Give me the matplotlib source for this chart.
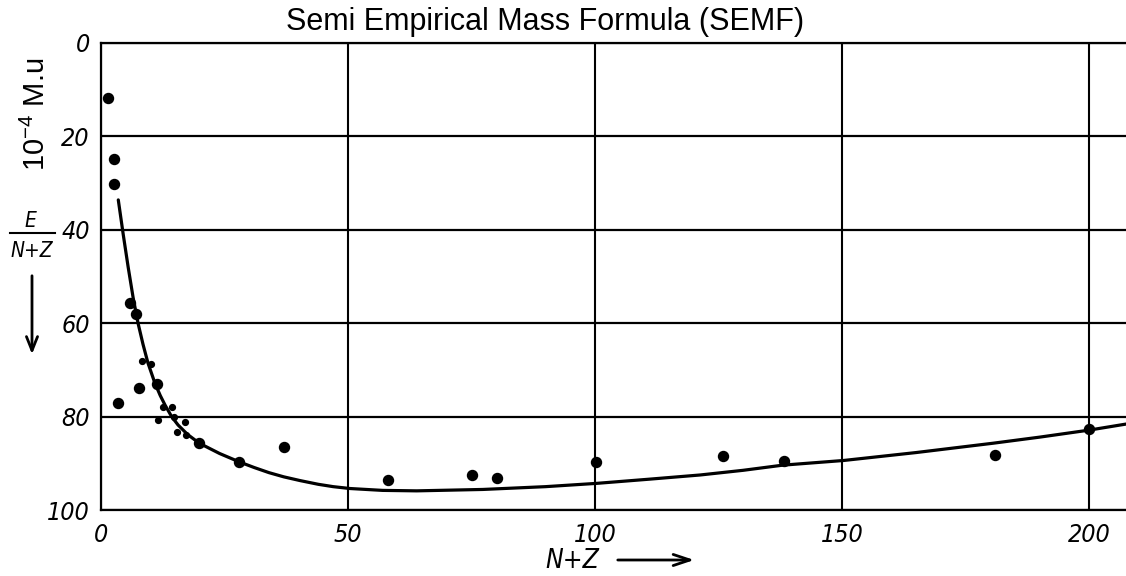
import matplotlib
matplotlib.use("Agg")
import matplotlib.pyplot as plt

plt.rcParams["mathtext.fontset"] = "custom"
plt.rcParams["mathtext.rm"] = "Liberation Sans"

# ---- data ----
big_x = [1.5, 2.7, 2.7, 5.9, 7.0, 7.6, 3.5, 11.3, 19.9, 28.0, 37.0, 58.2, 75.2, 80.1, 100.2, 126.0, 138.3, 181.0, 200.0]
big_y = [11.8, 24.9, 30.2, 55.6, 58.1, 73.9, 77.0, 73.0, 85.7, 89.7, 86.6, 93.6, 92.5, 93.1, 89.7, 88.4, 89.5, 88.2, 82.7]

small_x = [8.2, 10.1, 12.6, 14.4, 11.5, 14.8, 17.0, 15.3, 17.3]
small_y = [68.2, 68.7, 78.0, 77.9, 80.7, 80.1, 81.1, 83.2, 83.9]

curve_x = [3.5, 4.5, 5.5, 6.5, 7.5, 8.5, 9.5, 10.9, 12.0, 13.0, 14.3, 15.6, 17.5, 19.9, 24.0, 28.0,
           31.0, 34.0, 37.0, 40.3, 44.0, 47.0, 50.4, 57.0, 63.9, 77.3, 90.0, 100.3, 111.0, 121.3,
           130.0, 138.0, 150.3, 165.0, 180.6, 190.0, 200.0, 207.5]
curve_y = [33.6, 41.0, 48.0, 54.5, 60.0, 64.5, 68.5, 72.8, 75.5, 77.6, 80.0, 81.8, 83.8, 85.7, 87.9, 89.7,
           90.9, 92.0, 92.9, 93.7, 94.5, 95.0, 95.4, 95.8, 95.9, 95.6, 95.0, 94.3, 93.4, 92.5,
           91.5, 90.4, 89.4, 87.7, 85.7, 84.4, 82.9, 81.6]

x_ticks = [0, 50, 100, 150, 200]
x_labels = ["0", "50", "100", "150", "200"]
y_ticks = [0, 20, 40, 60, 80, 100]
y_labels = ["0", "20", "40", "60", "80", "100"]

W, H = 1126, 576
fig = plt.figure(figsize=(W / 100, H / 100), dpi=100)
fig.patch.set_facecolor("white")

def fx(px):
    return px / W

def fy(py):
    return 1 - py / H

ax = fig.add_axes([fx(101), fy(510), fx(1126) - fx(101), fy(43) - fy(510)])
ax.set_xlim(0, 207.5)
ax.set_ylim(100, 0)

for t in x_ticks:
    ax.axvline(t, color="black", lw=1.5, zorder=1)
for t in y_ticks:
    ax.axhline(t, color="black", lw=1.6, zorder=1)

ax.spines["right"].set_visible(False)
for side in ["left", "top", "bottom"]:
    ax.spines[side].set_linewidth(1.6)

ax.plot(curve_x, curve_y, color="black", lw=2.3, zorder=2, solid_capstyle="round",
        solid_joinstyle="round")
ax.plot(big_x, big_y, "o", color="black", ms=7.2, zorder=3)
ax.plot(small_x, small_y, "o", color="black", ms=4.2, zorder=3)

tick_font = dict(family="DejaVu Sans", style="italic", stretch="condensed", size=18)
ax.set_xticks(x_ticks)
ax.set_xticklabels(x_labels, fontdict=tick_font)
ax.set_yticks(y_ticks)
ax.set_yticklabels(y_labels, fontdict=tick_font)
ax.tick_params(axis="both", length=0)
ax.tick_params(axis="x", pad=9)
ax.tick_params(axis="y", pad=8)

# title
fig.text(fx(545), fy(22), "Semi Empirical Mass Formula (SEMF)", family="Liberation Sans",
         size=22, ha="center", va="center")
# unit label
fig.text(fx(36), fy(114), r"10$^{\mathregular{-4}}$ M.u", family="Liberation Sans", size=21,
         rotation=90, ha="center", va="center")

# E/(N+Z) fraction label
lab_font = dict(family="DejaVu Sans", style="italic", stretch="condensed", size=15)
fig.text(fx(30), fy(221), "E", ha="center", va="center", **lab_font)
fig.add_artist(plt.Line2D([fx(10), fx(55)], [fy(233), fy(233)], color="black", lw=1.5))
fig.text(fx(32), fy(251), "N+Z", ha="center", va="center", **lab_font)
fig.add_artist(matplotlib.patches.FancyArrowPatch((fx(32), fy(273)), (fx(32), fy(357)),
               transform=fig.transFigure, arrowstyle="->,head_width=4,head_length=10",
               color="black", lw=2))

# x label with arrow
fig.text(fx(572), fy(561), "N+Z", ha="center", va="center",
         family="DejaVu Sans", style="italic", stretch="condensed", size=19)
fig.add_artist(matplotlib.patches.FancyArrowPatch((fx(615), fy(560)), (fx(697), fy(560)),
               transform=fig.transFigure, arrowstyle="->,head_width=4,head_length=12",
               color="black", lw=2))

fig.savefig("out.png", dpi=100)
